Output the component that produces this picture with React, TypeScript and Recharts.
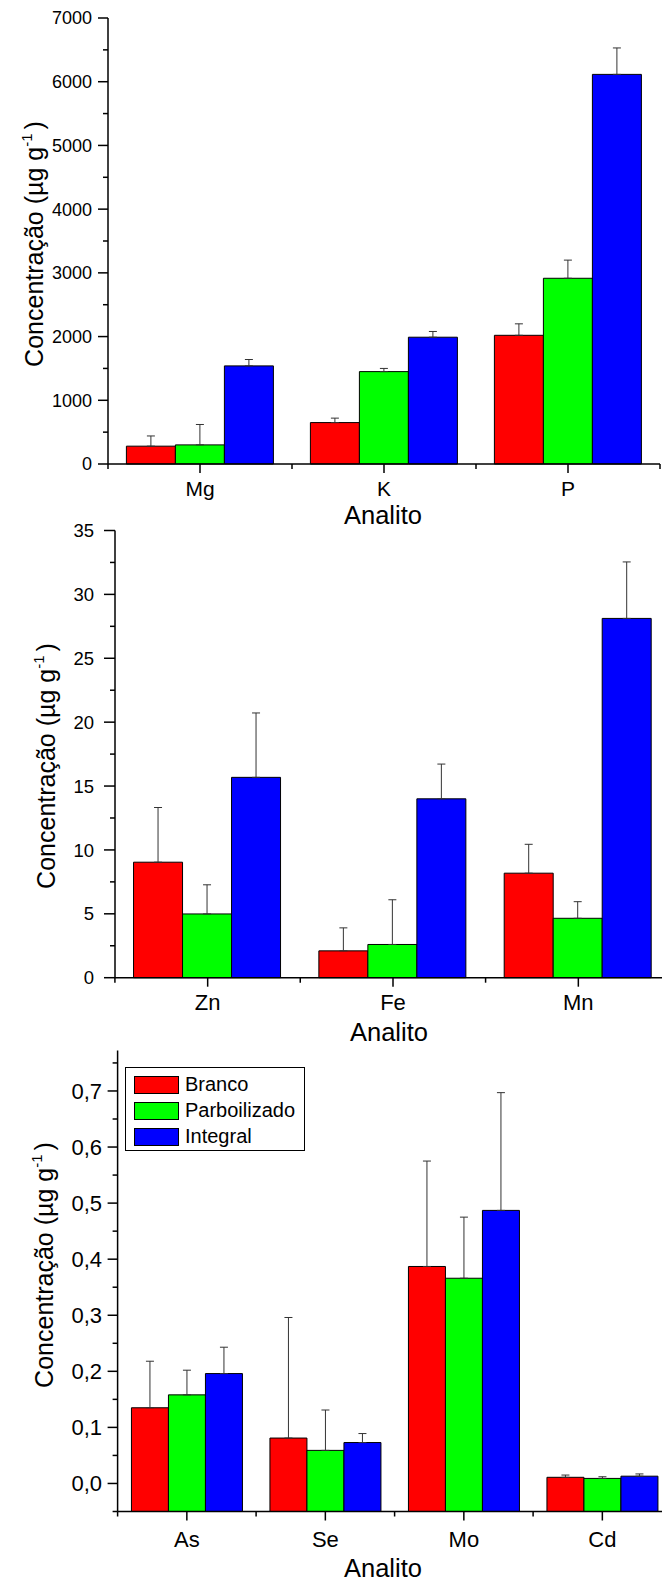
import React from 'react';
import { BarChart, Bar, XAxis, YAxis, ErrorBar, Legend } from 'recharts';

const FONT = 'Arial, "Liberation Sans", Helvetica, sans-serif';

const seriesNames = ['Branco', 'Parboilizado', 'Integral'];
const seriesColors = ['#ff0000', '#00ff00', '#0000ff'];

// Panel 1
const categories1 = ['Mg', 'K', 'P'];
const branco1 = [280, 650, 2020];
const brancoErr1 = [160, 70, 180];
const parboilizado1 = [300, 1450, 2915];
const parboilizadoErr1 = [320, 50, 285];
const integral1 = [1540, 1990, 6115];
const integralErr1 = [100, 90, 415];
const yTicks1 = [0, 500, 1000, 1500, 2000, 2500, 3000, 3500, 4000, 4500, 5000, 5500, 6000, 6500, 7000];
const yMajors1 = [0, 1000, 2000, 3000, 4000, 5000, 6000, 7000];
const yDomain1: [number, number] = [0, 7000];

// Panel 2
const categories2 = ['Zn', 'Fe', 'Mn'];
const branco2 = [9.04, 2.1, 8.18];
const brancoErr2 = [4.28, 1.8, 2.26];
const parboilizado2 = [4.99, 2.6, 4.65];
const parboilizadoErr2 = [2.28, 3.5, 1.3];
const integral2 = [15.68, 14.0, 28.12];
const integralErr2 = [5.04, 2.72, 4.42];
const yTicks2 = [0, 2.5, 5, 7.5, 10, 12.5, 15, 17.5, 20, 22.5, 25, 27.5, 30, 32.5, 35];
const yMajors2 = [0, 5, 10, 15, 20, 25, 30, 35];
const yDomain2: [number, number] = [0, 35];

// Panel 3
const categories3 = ['As', 'Se', 'Mo', 'Cd'];
const branco3 = [0.135, 0.081, 0.387, 0.011];
const brancoErr3 = [0.083, 0.215, 0.188, 0.004];
const parboilizado3 = [0.158, 0.059, 0.366, 0.009];
const parboilizadoErr3 = [0.044, 0.072, 0.109, 0.003];
const integral3 = [0.196, 0.073, 0.487, 0.013];
const integralErr3 = [0.047, 0.016, 0.21, 0.004];
const yTicks3 = [-0.05, 0, 0.05, 0.1, 0.15, 0.2, 0.25, 0.3, 0.35, 0.4, 0.45, 0.5, 0.55, 0.6, 0.65, 0.7, 0.75];
const yMajors3 = [0, 0.1, 0.2, 0.3, 0.4, 0.5, 0.6, 0.7];
const yDomain3: [number, number] = [-0.05, 0.772];

function buildRows(cats: string[], base: number, b: number[], be: number[], p: number[], pe: number[], i: number[], ie: number[]) {
  return cats.map((c, k) => ({
    cat: c,
    b: [base, b[k]],
    bErr: [0, be[k]],
    p: [base, p[k]],
    pErr: [0, pe[k]],
    i: [base, i[k]],
    iErr: [0, ie[k]],
  }));
}

const rows1 = buildRows(categories1, yDomain1[0], branco1, brancoErr1, parboilizado1, parboilizadoErr1, integral1, integralErr1);
const rows2 = buildRows(categories2, yDomain2[0], branco2, brancoErr2, parboilizado2, parboilizadoErr2, integral2, integralErr2);
const rows3 = buildRows(categories3, yDomain3[0], branco3, brancoErr3, parboilizado3, parboilizadoErr3, integral3, integralErr3);

const fmtInt = (v: number) => String(v);
const fmtComma = (v: number) => v.toFixed(1).replace('.', ',');

function YTitle(props: any) {
  const { tx, ty } = props;
  return (
    <text
      x={tx}
      y={ty}
      transform={`rotate(-90 ${tx} ${ty})`}
      textAnchor="middle"
      fontFamily={FONT}
      fontSize={25}
      fill="#000"
    >
      <tspan>Concentração (µg g</tspan>
      <tspan dy={-11} fontSize={15}>-1</tspan>
      <tspan dy={11} dx={4}>)</tspan>
    </text>
  );
}

function XTitle(props: any) {
  const { tx, ty } = props;
  return (
    <text x={tx} y={ty} textAnchor="middle" fontFamily={FONT} fontSize={25.5} fill="#000">
      Analito
    </text>
  );
}

function LegendBox() {
  return (
    <div
      style={{
        width: 180,
        height: 84,
        boxSizing: 'border-box',
        border: '1px solid #000',
        background: '#fff',
        padding: '4px 0 0 8px',
        fontFamily: FONT,
        fontSize: 20,
        color: '#000',
      }}
    >
      {seriesNames.map((n, k) => (
        <div key={n} style={{ display: 'flex', alignItems: 'center', height: 26, fontSize: 20 }}>
          <span
            style={{
              display: 'inline-block',
              width: 45,
              height: 18,
              boxSizing: 'border-box',
              border: '1px solid #000',
              background: seriesColors[k],
              marginRight: 6,
            }}
          />
          <span>{n}</span>
        </div>
      ))}
    </div>
  );
}

type PanelProps = {
  top: number;
  width: number;
  height: number;
  margin: { top: number; right: number; bottom: number; left: number };
  yAxisWidth: number;
  xAxisHeight: number;
  rows: any[];
  domain: [number, number];
  yTicks: number[];
  yMajors: number[];
  fmt: (v: number) => string;
  yFont: number;
  yLabelGap: number;
  yMajorLen: number;
  xFont: number;
  xLabelOffset: number;
  band: number;
  nCats: number;
  titleX: number;
  titleY: number;
  xTitleX: number;
  xTitleY: number;
  legend?: boolean;
};

function Panel(pp: PanelProps) {
  const YTick = (props: any) => {
    const { x, y, payload } = props;
    const v = payload.value as number;
    const isMajor = pp.yMajors.some((m) => Math.abs(m - v) < 1e-9);
    return (
      <g>
        <line x1={x - (isMajor ? pp.yMajorLen : 5)} x2={x} y1={y} y2={y} stroke="#000" strokeWidth={1.5} />
        {isMajor && (
          <text x={x - pp.yLabelGap} y={y} dy="0.36em" textAnchor="end" fontFamily={FONT} fontSize={pp.yFont} fill="#000">
            {pp.fmt(v)}
          </text>
        )}
      </g>
    );
  };
  const XTick = (props: any) => {
    const { x, y, payload, index } = props;
    const h = pp.band / 2;
    return (
      <g>
        <line x1={x} x2={x} y1={y} y2={y + 9} stroke="#000" strokeWidth={1.5} />
        <line x1={x - h} x2={x - h} y1={y} y2={y + 5} stroke="#000" strokeWidth={1.5} />
        {index === pp.nCats - 1 && <line x1={x + h} x2={x + h} y1={y} y2={y + 5} stroke="#000" strokeWidth={1.5} />}
        <text x={x} y={y + pp.xLabelOffset} textAnchor="middle" fontFamily={FONT} fontSize={pp.xFont} fill="#000">
          {payload.value}
        </text>
      </g>
    );
  };
  const keys = ['b', 'p', 'i'];
  return (
    <div style={{ position: 'absolute', left: 0, top: pp.top, width: pp.width, height: pp.height }}>
      <BarChart
        width={pp.width}
        height={pp.height}
        data={pp.rows}
        margin={pp.margin}
        barCategoryGap="10%"
        barGap={0}
      >
        <XAxis
          dataKey="cat"
          type="category"
          interval={0}
          tickSize={0}
          tickMargin={0}
          tickLine={false}
          height={pp.xAxisHeight}
          axisLine={{ stroke: '#000', strokeWidth: 1.5 }}
          tick={XTick}
          label={<XTitle tx={pp.xTitleX} ty={pp.xTitleY} />}
        />
        <YAxis
          type="number"
          domain={pp.domain}
          ticks={pp.yTicks}
          interval={0}
          tickSize={0}
          tickMargin={0}
          tickLine={false}
          width={pp.yAxisWidth}
          axisLine={{ stroke: '#000', strokeWidth: 1.5 }}
          tick={YTick}
          label={<YTitle tx={pp.titleX} ty={pp.titleY} />}
        />
        {keys.map((k, idx) => (
          <Bar
            key={k}
            dataKey={k}
            name={seriesNames[idx]}
            fill={seriesColors[idx]}
            stroke="#000"
            strokeWidth={1}
            isAnimationActive={false}
          >
            <ErrorBar dataKey={k + 'Err'} direction="y" width={4} stroke="#333" strokeWidth={1} isAnimationActive={false} />
          </Bar>
        ))}
        {pp.legend && (
          <Legend
            layout="vertical"
            align="center"
            verticalAlign="middle"
            content={<LegendBox />}
            wrapperStyle={{ position: 'absolute', left: 125, top: 36.7, width: 180, height: 84 }}
          />
        )}
      </BarChart>
    </div>
  );
}

export default function App() {
  return (
    <div
      style={{
        position: 'absolute',
        left: 0,
        top: 0,
        width: 662,
        height: 1585,
        overflow: 'hidden',
        background: '#fff',
      }}
    >
      <Panel
        top={0}
        width={662}
        height={530}
        margin={{ top: 18, right: 2, bottom: 0, left: 8 }}
        yAxisWidth={100}
        xAxisHeight={66}
        rows={rows1}
        domain={yDomain1}
        yTicks={yTicks1}
        yMajors={yMajors1}
        fmt={fmtInt}
        yFont={18}
        yLabelGap={16}
        yMajorLen={10}
        xFont={21}
        xLabelOffset={31.5}
        band={184}
        nCats={3}
        titleX={43}
        titleY={244}
        xTitleX={383}
        xTitleY={523.5}
      />
      <Panel
        top={510}
        width={672}
        height={550}
        margin={{ top: 20.5, right: 1, bottom: 0, left: 15 }}
        yAxisWidth={100}
        xAxisHeight={82.3}
        rows={rows2}
        domain={yDomain2}
        yTicks={yTicks2}
        yMajors={yMajors2}
        fmt={fmtInt}
        yFont={18.5}
        yLabelGap={21}
        yMajorLen={11}
        xFont={22}
        xLabelOffset={32.5}
        band={185.5}
        nCats={3}
        titleX={55}
        titleY={256}
        xTitleX={389}
        xTitleY={531}
      />
      <Panel
        top={1030}
        width={672}
        height={555}
        margin={{ top: 20.6, right: 0.4, bottom: 0, left: 17.6 }}
        yAxisWidth={100}
        xAxisHeight={73.5}
        rows={rows3}
        domain={yDomain3}
        yTicks={yTicks3}
        yMajors={yMajors3}
        fmt={fmtComma}
        yFont={22}
        yLabelGap={15.5}
        yMajorLen={10}
        xFont={22}
        xLabelOffset={35}
        band={138.5}
        nCats={4}
        titleX={53}
        titleY={235}
        xTitleX={383}
        xTitleY={547}
        legend
      />
    </div>
  );
}
